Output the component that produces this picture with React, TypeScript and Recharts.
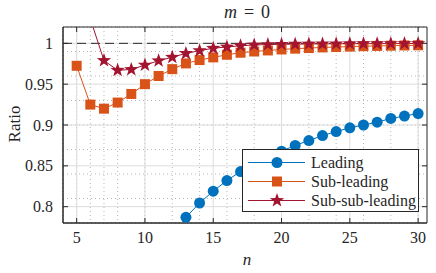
import React from 'react';
import {
  LineChart,
  Line,
  XAxis,
  YAxis,
  CartesianGrid,
  ReferenceLine,
  ReferenceArea,
} from 'recharts';

const nValues = [5, 6, 7, 8, 9, 10, 11, 12, 13, 14, 15, 16, 17, 18, 19, 20, 21, 22, 23, 24, 25, 26, 27, 28, 29, 30];

const leading = [
  null, null, null, null, null, null, null, null,
  0.787, 0.8045, 0.819, 0.832, 0.843, 0.853, 0.861, 0.868, 0.875, 0.881, 0.887, 0.892,
  0.8965, 0.9, 0.9035, 0.908, 0.911, 0.914,
];

const subLeading = [
  0.9725, 0.925, 0.92, 0.9275, 0.938, 0.95, 0.96, 0.9684, 0.9754, 0.9795, 0.9828, 0.986,
  0.9885, 0.99, 0.9913, 0.9925, 0.9935, 0.9942, 0.995, 0.9955, 0.996, 0.9965, 0.9968,
  0.9971, 0.9974, 0.9976,
];

const subSubLeading = [
  null, 1.03, 0.979, 0.967, 0.968, 0.9734, 0.9787, 0.983, 0.9877, 0.991, 0.994, 0.9955,
  0.997, 0.998, 0.9985, 0.9988, 0.999, 0.9992, 0.9993, 0.9994, 0.9995, 0.9996, 0.9996,
  0.9997, 0.9997, 0.9998,
];

const xTicks = [5, 10, 15, 20, 25, 30];
const yTicks = [0.8, 0.85, 0.9, 0.95, 1];
const xMinor = [4, 5, 6, 7, 8, 9, 10, 11, 12, 13, 14, 15, 16, 17, 18, 19, 20, 21, 22, 23, 24, 25, 26, 27, 28, 29, 30];
const yMinor = [
  0.78, 0.79, 0.8, 0.81, 0.82, 0.83, 0.84, 0.85, 0.86, 0.87, 0.88, 0.89, 0.9, 0.91, 0.92,
  0.93, 0.94, 0.95, 0.96, 0.97, 0.98, 0.99, 1, 1.01, 1.02,
];

const X_DOMAIN: [number, number] = [4, 30.65];
const Y_DOMAIN: [number, number] = [0.78, 1.02];

const BLUE = '#0072BD';
const ORANGE = '#D95319';
const RED = '#A2142F';
const AXIS = '#262626';
const FONT = "'Liberation Serif', 'DejaVu Serif', serif";

// chart frame
const W = 436;
const H = 273;
const M = { top: 27, right: 9, left: 0, bottom: 0 };
const Y_AXIS_W = 63;
const X_AXIS_H = 50;
const PLOT_LEFT = M.left + Y_AXIS_W;
const PLOT_RIGHT = W - M.right;
const PLOT_TOP = M.top;
const PLOT_BOTTOM = H - M.bottom - X_AXIS_H;
const TICK_SIZE = 6;
const X_TICK_MARGIN = 3;
const Y_TICK_MARGIN = 4;
const INNER_TICK = 5;

const data = nValues.map((n, i) => ({
  n,
  leading: leading[i],
  subLeading: subLeading[i],
  subSubLeading: subSubLeading[i],
}));

const starPath = (cx: number, cy: number, R: number) => {
  const r = R * 0.4;
  let d = '';
  for (let k = 0; k < 10; k++) {
    const rad = k % 2 === 0 ? R : r;
    const a = -Math.PI / 2 + (k * Math.PI) / 5;
    d += (k === 0 ? 'M' : 'L') + (cx + rad * Math.cos(a)).toFixed(2) + ',' + (cy + rad * Math.sin(a)).toFixed(2);
  }
  return d + 'Z';
};

const Marker = ({ kind, cx, cy, color }: { kind: string; cx: number; cy: number; color: string }) => {
  if (kind === 'circle') return <circle cx={cx} cy={cy} r={5.5} fill={color} />;
  if (kind === 'square') return <rect x={cx - 5} y={cy - 5} width={10} height={10} fill={color} />;
  return <path d={starPath(cx, cy, 7.5)} fill={color} />;
};

const makeDot = (kind: string, color: string) => (p: any) => {
  if (p.cy == null || p.value == null) return <g key={p.index} />;
  return (
    <g key={p.index}>
      <Marker kind={kind} cx={p.cx} cy={p.cy} color={color} />
    </g>
  );
};

// tick label plus MATLAB-style inward tick marks on both sides
const XTick = (p: any) => {
  const x = p.payload.coordinate;
  return (
    <g>
      <line x1={x} x2={x} y1={PLOT_BOTTOM} y2={PLOT_BOTTOM - INNER_TICK} stroke={AXIS} />
      <line x1={x} x2={x} y1={PLOT_TOP} y2={PLOT_TOP + INNER_TICK} stroke={AXIS} />
      <text x={p.x} y={p.y} dy="0.71em" textAnchor="middle" fontSize={16} fontFamily={FONT} fill={AXIS}>
        {p.payload.value}
      </text>
    </g>
  );
};

const YTick = (p: any) => {
  const y = p.payload.coordinate;
  return (
    <g>
      <line x1={PLOT_LEFT} x2={PLOT_LEFT + INNER_TICK} y1={y} y2={y} stroke={AXIS} />
      <line x1={PLOT_RIGHT} x2={PLOT_RIGHT - INNER_TICK} y1={y} y2={y} stroke={AXIS} />
      <text x={p.x} y={p.y} dy="0.35em" textAnchor="end" fontSize={16} fontFamily={FONT} fill={AXIS}>
        {String(p.payload.value)}
      </text>
    </g>
  );
};

const series = [
  { key: 'leading', name: 'Leading', color: BLUE, kind: 'circle' },
  { key: 'subLeading', name: 'Sub-leading', color: ORANGE, kind: 'square' },
  { key: 'subSubLeading', name: 'Sub-sub-leading', color: RED, kind: 'star' },
];

const LegendBox = () => (
  <div
    style={{
      position: 'absolute',
      left: 242,
      top: 149,
      width: 177,
      height: 63,
      boxSizing: 'border-box',
      border: `1px solid ${AXIS}`,
      background: '#fff',
      paddingTop: 3,
      fontFamily: FONT,
      fontSize: 16,
      color: AXIS,
    }}
  >
    {series.map((s) => (
      <div key={s.key} style={{ display: 'flex', alignItems: 'center', height: 19 }}>
        <svg width={68} height={19} style={{ flex: 'none' }}>
          <line x1={5} x2={62} y1={9.5} y2={9.5} stroke={s.color} strokeWidth={1} />
          <Marker kind={s.kind} cx={34} cy={9.5} color={s.color} />
        </svg>
        <span style={{ lineHeight: '19px', whiteSpace: 'nowrap' }}>{s.name}</span>
      </div>
    ))}
  </div>
);

export default function App() {
  return (
    <div style={{ position: 'absolute', left: 0, top: 0, width: W, height: H, background: '#fff' }}>
      <LineChart width={W} height={H} data={data} margin={M}>
        <CartesianGrid
          horizontalValues={yMinor}
          verticalValues={xMinor}
          stroke="#b8b8b8"
          strokeDasharray="1 3"
        />
        <CartesianGrid horizontalValues={yTicks} verticalValues={xTicks} stroke="#dcdcdc" />
        <XAxis
          dataKey="n"
          type="number"
          domain={X_DOMAIN}
          ticks={xTicks}
          allowDataOverflow
          height={X_AXIS_H}
          axisLine={{ stroke: AXIS }}
          tickLine={false}
          tickSize={TICK_SIZE}
          tickMargin={X_TICK_MARGIN}
          tick={<XTick />}
        />
        <YAxis
          type="number"
          domain={Y_DOMAIN}
          ticks={yTicks}
          allowDataOverflow
          width={Y_AXIS_W}
          axisLine={{ stroke: AXIS }}
          tickLine={false}
          tickSize={TICK_SIZE}
          tickMargin={Y_TICK_MARGIN}
          tick={<YTick />}
        />
        <ReferenceLine y={1} stroke={AXIS} strokeDasharray="9 5" strokeWidth={1} />
        {series.map((s) => (
          <Line
            key={s.key}
            dataKey={s.key}
            name={s.name}
            stroke={s.color}
            strokeWidth={1}
            dot={makeDot(s.kind, s.color)}
            activeDot={false}
            isAnimationActive={false}
          />
        ))}
        <ReferenceArea
          x1={X_DOMAIN[0]}
          x2={X_DOMAIN[1]}
          y1={Y_DOMAIN[0]}
          y2={Y_DOMAIN[1]}
          fill="none"
          stroke={AXIS}
          strokeWidth={1}
          ifOverflow="visible"
        />
      </LineChart>
      <LegendBox />
      <div
        style={{
          position: 'absolute',
          left: 247,
          top: 3,
          transform: 'translateX(-50%)',
          fontFamily: FONT,
          fontSize: 18,
          lineHeight: '18px',
          color: AXIS,
          whiteSpace: 'nowrap',
        }}
      >
        <i>m</i>
        <span style={{ margin: '0 7px' }}>=</span>0
      </div>
      <div
        style={{
          position: 'absolute',
          left: 247,
          top: 251,
          transform: 'translateX(-50%)',
          fontFamily: FONT,
          fontSize: 17,
          lineHeight: '17px',
          color: AXIS,
          fontStyle: 'italic',
        }}
      >
        n
      </div>
      <div
        style={{
          position: 'absolute',
          left: 14,
          top: 124,
          transform: 'translate(-50%, -50%) rotate(-90deg)',
          fontFamily: FONT,
          fontSize: 17,
          lineHeight: '17px',
          color: AXIS,
          whiteSpace: 'nowrap',
        }}
      >
        Ratio
      </div>
    </div>
  );
}
